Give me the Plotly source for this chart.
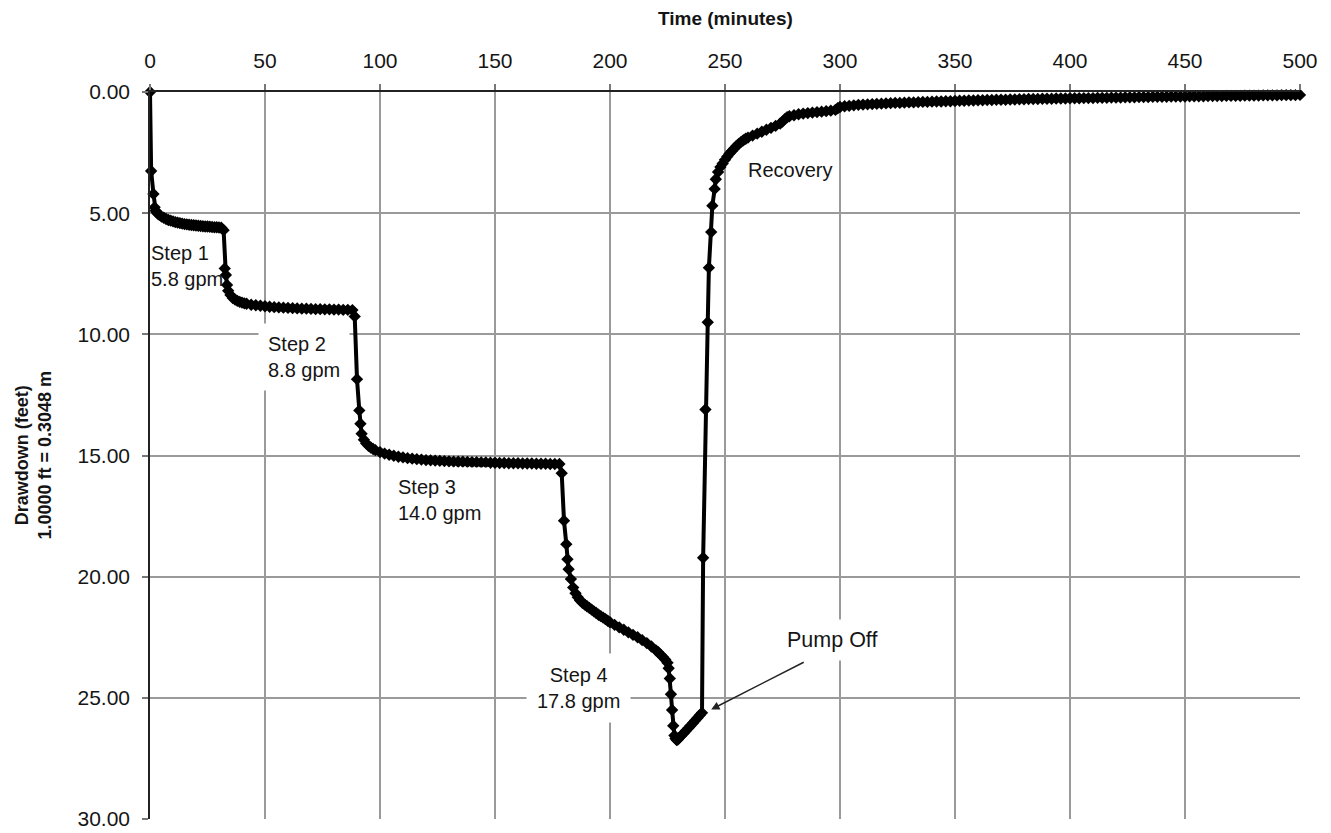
import plotly.graph_objects as go

# ---- data (time in minutes, drawdown in feet) ----
step1_t = [0, 0.5, 1.5, 2, 2.5, 3, 3.5, 4, 5, 6, 7, 8, 9, 10, 11, 12, 13, 14, 15, 16, 17, 18, 19, 20,
           21, 22, 23, 24, 25, 26, 27, 28, 29, 30, 31, 32]
step1_dd = [0.00, 3.26, 4.21, 4.76, 4.90, 4.98, 5.03, 5.07, 5.14, 5.19, 5.24, 5.28, 5.31, 5.34, 5.37, 5.39,
            5.41, 5.43, 5.45, 5.46, 5.48, 5.49, 5.50, 5.51, 5.52, 5.53, 5.54, 5.55, 5.55, 5.56, 5.57, 5.58,
            5.58, 5.59, 5.60, 5.70]

step2_t = [32.5, 33, 33.5, 34, 35, 36, 37, 38, 39, 40, 41, 42, 44, 46, 48, 50, 52, 54, 56, 58, 60, 62, 64,
           66, 68, 70, 72, 74, 76, 78, 80, 82, 84, 86, 88]
step2_dd = [7.28, 7.55, 7.96, 8.20, 8.38, 8.50, 8.57, 8.62, 8.66, 8.69, 8.72, 8.74, 8.78, 8.80, 8.82, 8.84,
            8.86, 8.88, 8.89, 8.90, 8.91, 8.92, 8.93, 8.94, 8.94, 8.95, 8.96, 8.96, 8.97, 8.97, 8.98, 8.98,
            8.99, 8.99, 9.00]

step3_t = [89, 90, 91, 91.5, 92, 93, 94, 95, 96, 97, 98, 100, 102, 104, 106, 108, 110, 112, 114, 116, 118,
           120, 122, 124, 126, 128, 130, 132, 134, 136, 138, 140, 142, 144, 146, 148, 150, 152, 154, 156,
           158, 160, 162, 164, 166, 168, 170, 172, 174, 176, 178]
step3_dd = [9.26, 11.85, 13.14, 13.69, 14.10, 14.35, 14.50, 14.60, 14.67, 14.73, 14.78, 14.86, 14.92,
            14.97, 15.01, 15.05, 15.08, 15.11, 15.13, 15.15, 15.17, 15.19, 15.20, 15.21, 15.22, 15.23,
            15.24, 15.25, 15.26, 15.26, 15.27, 15.28, 15.28, 15.29, 15.29, 15.30, 15.30, 15.31, 15.31,
            15.32, 15.32, 15.32, 15.33, 15.33, 15.33, 15.34, 15.34, 15.34, 15.35, 15.35, 15.35]

step4_t = [179, 180, 181, 181.5, 182, 183, 184, 185, 186, 187, 188, 189, 190, 191, 192, 193, 194, 195,
           196, 197, 198, 199, 200, 202, 204, 206, 208, 210, 212, 214, 216, 218, 220, 221, 222, 223, 224,
           225, 225.5, 226, 226.5, 227, 227.5, 228, 228.5, 229, 229.5, 230, 231, 232, 233, 234, 235, 236,
           237, 238, 239, 240]
step4_dd = [15.73, 17.69, 18.66, 19.28, 19.69, 20.10, 20.45, 20.68, 20.85, 20.98, 21.08, 21.15, 21.22,
            21.29, 21.36, 21.43, 21.50, 21.57, 21.63, 21.69, 21.75, 21.82, 21.88, 21.99, 22.09, 22.19,
            22.30, 22.40, 22.50, 22.62, 22.74, 22.88, 23.04, 23.12, 23.22, 23.32, 23.42, 23.55, 23.78,
            24.20, 24.85, 25.50, 26.15, 26.55, 26.68, 26.74, 26.72, 26.66, 26.56, 26.46, 26.36, 26.26,
            26.15, 26.05, 25.94, 25.83, 25.72, 25.62]

recovery_t = [240.5, 241.5, 242.5, 243, 244, 244.5, 245.5, 246, 247, 248, 249, 250, 251, 252, 253, 254,
              255, 256, 257, 258, 259, 260, 262, 264, 266, 268, 270, 272, 274, 275, 276, 277, 278, 280,
              282, 284, 286, 288, 290, 292, 294, 296, 298, 299, 300, 302, 304, 306, 308, 310, 312, 314,
              316, 318, 320, 322, 324, 326, 328, 330, 332, 334, 336, 338, 340, 342, 344, 346, 348, 350,
              352, 354, 356, 358, 360, 362, 364, 366, 368, 370, 372, 374, 376, 378, 380, 382, 384, 386,
              388, 390, 392, 394, 396, 398, 400, 402, 404, 406, 408, 410, 412, 414, 416, 418, 420, 422,
              424, 426, 428, 430, 432, 434, 436, 438, 440, 442, 444, 446, 448, 450, 452, 454, 456, 458,
              460, 462, 464, 466, 468, 470, 472, 474, 476, 478, 480, 482, 484, 486, 488, 490, 492, 494,
              496, 498, 500]
recovery_dd = [19.22, 13.10, 9.50, 7.25, 5.78, 4.69, 4.00, 3.60, 3.30, 3.10, 2.95, 2.80, 2.66, 2.54,
               2.43, 2.33, 2.23, 2.14, 2.06, 1.99, 1.93, 1.88, 1.80, 1.72, 1.64, 1.56, 1.48, 1.40, 1.30,
               1.22, 1.12, 1.04, 1.00, 0.96, 0.92, 0.89, 0.87, 0.85, 0.83, 0.81, 0.79, 0.77, 0.74, 0.67,
               0.62, 0.59, 0.57, 0.55, 0.53, 0.52, 0.51, 0.50, 0.49, 0.48, 0.47, 0.46, 0.45, 0.45, 0.44,
               0.43, 0.43, 0.42, 0.41, 0.41, 0.40, 0.39, 0.39, 0.38, 0.38, 0.37, 0.36, 0.36, 0.35, 0.35,
               0.34, 0.34, 0.33, 0.33, 0.32, 0.32, 0.32, 0.31, 0.31, 0.30, 0.30, 0.29, 0.29, 0.29, 0.28,
               0.28, 0.28, 0.27, 0.27, 0.27, 0.26, 0.26, 0.26, 0.25, 0.25, 0.25, 0.24, 0.24, 0.24, 0.23,
               0.23, 0.23, 0.22, 0.22, 0.22, 0.21, 0.21, 0.21, 0.20, 0.20, 0.20, 0.20, 0.19, 0.19, 0.19,
               0.19, 0.18, 0.18, 0.18, 0.18, 0.17, 0.17, 0.17, 0.17, 0.16, 0.16, 0.16, 0.16, 0.15, 0.15,
               0.15, 0.15, 0.14, 0.14, 0.14, 0.14, 0.13, 0.13, 0.13, 0.13, 0.12, 0.12, 0.12]

x_ticks = [0, 50, 100, 150, 200, 250, 300, 350, 400, 450, 500]
y_ticks = [0, 5, 10, 15, 20, 25, 30]

time_min = step1_t + step2_t + step3_t + step4_t + recovery_t
drawdown = step1_dd + step2_dd + step3_dd + step4_dd + recovery_dd

FONT = "Liberation Sans, Arial, Helvetica, sans-serif"
TXT = "#151515"

fig = go.Figure()
fig.add_trace(go.Scatter(
    x=time_min, y=drawdown, mode="lines+markers",
    line=dict(color="black", width=4),
    marker=dict(symbol="diamond", size=9.5, color="black"),
    cliponaxis=False, showlegend=False, hoverinfo="skip",
))

axis_common = dict(
    showgrid=True, gridcolor="#9a9a9a", gridwidth=1.5,
    showline=True, linecolor="#222222", linewidth=1.5,
    ticks="outside", ticklen=6, tickcolor="#777777", tickwidth=1.5,
    zeroline=False, ticklabeloverflow="allow", automargin=False,
    tickfont=dict(family=FONT, size=21, color=TXT),
)

fig.update_layout(
    width=1331, height=833,
    margin=dict(l=150, r=31, t=92, b=14),
    paper_bgcolor="white", plot_bgcolor="white",
    font=dict(family=FONT, color=TXT),
    xaxis=dict(side="top", range=[0, 500], tickvals=x_ticks,
               ticktext=[str(v) for v in x_ticks], ticklabelstandoff=8, **axis_common),
    yaxis=dict(range=[30, 0], tickvals=y_ticks,
               ticktext=[f"{v:.2f}" for v in y_ticks], ticklabelstandoff=8, **axis_common),
)

# axis titles
fig.add_annotation(text="<b>Time (minutes)</b>", xref="paper", yref="paper",
                   x=0.5, y=1.101, xanchor="center", yanchor="middle", showarrow=False,
                   font=dict(family=FONT, size=19, color=TXT))
fig.add_annotation(text="<b>Drawdown (feet)<br>1.0000 ft = 0.3048 m</b>", xref="paper", yref="paper",
                   x=-0.1017, y=0.5, xanchor="center", yanchor="middle", textangle=-90,
                   showarrow=False, font=dict(family=FONT, size=18, color=TXT))

lab_font = dict(family=FONT, size=20, color=TXT)
fig.add_annotation(text="Step 1<br>5.8 gpm", x=0, y=7.16, xanchor="left", yanchor="middle",
                   align="left", showarrow=False, font=lab_font, borderpad=0)
fig.add_annotation(text="Step 2<br>8.8 gpm", x=47.0, y=10.92, xanchor="left", yanchor="middle",
                   align="left", showarrow=False, font=lab_font, bgcolor="white", borderpad=9)
fig.add_annotation(text="Step 3<br>14.0 gpm", x=104.0, y=16.85, xanchor="left", yanchor="middle",
                   align="left", showarrow=False, font=lab_font, bgcolor="white", borderpad=8)
fig.add_annotation(text="Step 4<br>17.8 gpm", x=186.3, y=24.6, xanchor="center", yanchor="middle",
                   align="center", showarrow=False, font=lab_font, bgcolor="white", borderpad=10)
fig.add_annotation(text="Recovery", x=259, y=3.23, xanchor="left", yanchor="middle",
                   align="left", showarrow=False, font=lab_font)
fig.add_annotation(text="Pump Off", x=296.5, y=22.62, xanchor="center", yanchor="middle",
                   showarrow=False, font=dict(family=FONT, size=21.5, color=TXT),
                   bgcolor="white", borderpad=8)
fig.add_annotation(text="", x=244, y=25.48, ax=94, ay=-48, axref="pixel", ayref="pixel",
                   showarrow=True, arrowhead=2, arrowsize=1.1, arrowwidth=1.5, arrowcolor="#222222")

fig.write_html("out.html")
